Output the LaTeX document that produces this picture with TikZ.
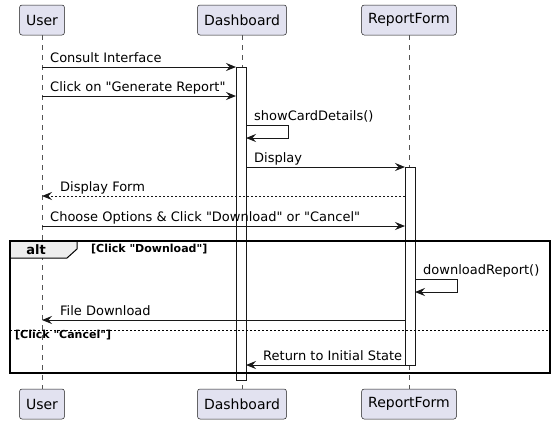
\documentclass[tikz,border=0pt]{standalone}
\usepackage{fontspec}
\setmainfont[Ligatures=TeXOff]{DejaVu Sans}
\usetikzlibrary{arrows.meta}
\definecolor{partfill}{HTML}{E2E2F0}
\definecolor{partdraw}{HTML}{181818}
\definecolor{tabfill}{HTML}{EEEEEE}
\definecolor{lifegray}{HTML}{555555}

\tikzset{
  part/.style={draw=partdraw, fill=partfill, rounded corners=2.5pt, line width=0.5pt,
    minimum height=30pt, inner xsep=6.5pt, font=\fontsize{14}{16}\selectfont},
  life/.style={draw=lifegray, line width=0.5pt, dash pattern=on 5pt off 5pt},
  actbar/.style={draw=partdraw, fill=white, line width=1pt},
  msg/.style={draw=partdraw, line width=1pt, -{Stealth[length=10pt,width=8pt,inset=3.5pt]}},
  ret/.style={msg, dash pattern=on 2pt off 2pt},
  lbl/.style={anchor=base west, inner sep=0pt, font=\fontsize{13}{15}\selectfont},
  guard/.style={anchor=base west, inner sep=0pt, font=\bfseries\fontsize{11}{13}\selectfont},
}

\begin{document}
\begin{tikzpicture}[x=1pt, y=-1pt]
    \useasboundingbox (0,0) rectangle (555,424);

    % participants
    \node[part] (u1) at (42, 20) {User};
    \node[part] (d1) at (242, 20) {Dashboard};
    \node[part] (r1) at (409, 20) {ReportForm};
    \node[part] (u2) at (42, 404) {User};
    \node[part] (d2) at (242, 404) {Dashboard};
    \node[part] (r2) at (409, 404) {ReportForm};

    % lifelines
    \draw[life] (u1.south) to (u2.north);
    \draw[life] (d1.south) to (d2.north);
    \draw[life] (r1.south) to (r2.north);

    % activations
    \draw[actbar] (236, 67) rectangle (246, 380);
    \draw[actbar] (405, 167) rectangle (415, 365);

    % alt frame
    \draw[line width=1pt, fill=tabfill] (10, 241) -- (77, 241) -- (77, 249) -- (67, 258) -- (10, 258) -- cycle;
    \draw[line width=1.5pt] (10, 241) rectangle (550, 373);
    \draw[line width=0.8pt, dash pattern=on 2pt off 2pt] (10, 330) -- (550, 330);
    \node[anchor=base, inner sep=0pt, font=\bfseries\fontsize{13}{15}\selectfont] (alt) at (36, 254.5) {alt};
    \node[guard] (g1) at (91, 252.5) {[Click "Download"]};
    \node[guard] (g2) at (15, 338.5) {[Click "Cancel"]};

    % message ends
    \coordinate (1) at (42, 67);
    \coordinate (2) at (236, 67);
    \coordinate (3) at (42, 96);
    \coordinate (4) at (236, 96);
    \coordinate (5) at (246, 125);
    \coordinate (6) at (246, 138);
    \coordinate (7) at (246, 167);
    \coordinate (8) at (405, 167);
    \coordinate (9) at (405, 196);
    \coordinate (10) at (42, 196);
    \coordinate (11) at (42, 226);
    \coordinate (12) at (405, 226);
    \coordinate (13) at (415, 279);
    \coordinate (14) at (415, 292);
    \coordinate (15) at (405, 320);
    \coordinate (16) at (42, 320);
    \coordinate (17) at (405, 365);
    \coordinate (18) at (246, 365);

    % messages
    \draw[msg] (1) to (2);
    \draw[msg] (3) to (4);
    \draw[msg] (5) -- ++(42, 0) |- (6);
    \draw[msg] (7) to (8);
    \draw[ret] (9) to (10);
    \draw[msg] (11) to (12);
    \draw[msg] (13) -- ++(42, 0) |- (14);
    \draw[msg] (15) to (16);
    \draw[msg] (17) to (18);

    % labels
    \node[lbl] (l1) at (50, 62.5) {Consult Interface};
    \node[lbl] (l2) at (50, 91.5) {Click on "Generate Report"};
    \node[lbl] (l3) at (254, 120.5) {showCardDetails()};
    \node[lbl] (l4) at (254, 162.5) {Display};
    \node[lbl] (l5) at (60, 191.5) {Display Form};
    \node[lbl] (l6) at (50, 221.5) {Choose Options \& Click "Download" or "Cancel"};
    \node[lbl] (l7) at (423, 274.5) {downloadReport()};
    \node[lbl] (l8) at (60, 315.5) {File Download};
    \node[lbl] (l9) at (263, 360.5) {Return to Initial State};
\end{tikzpicture}
\end{document}
